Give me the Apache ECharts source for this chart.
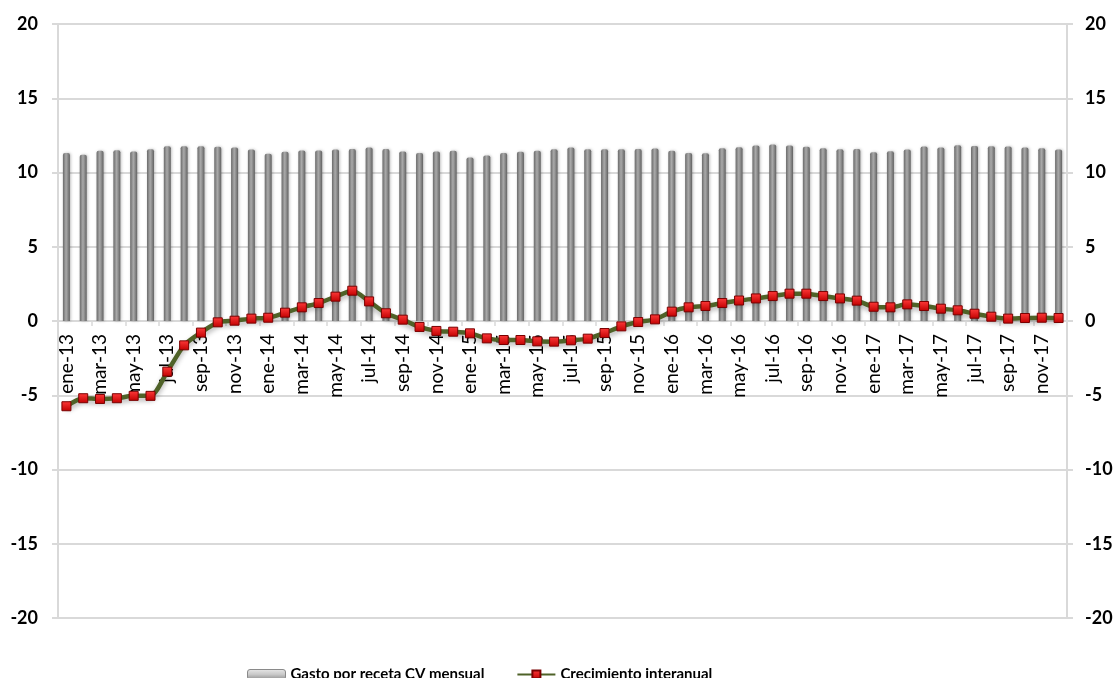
<!DOCTYPE html>
<html>
<head>
<meta charset="utf-8">
<script src="https://cdn.jsdelivr.net/npm/echarts@6/dist/echarts.min.js"></script>
<style>
  html, body { margin: 0; padding: 0; background: #fff; }
  #chart { width: 1115px; height: 678px; }
</style>
</head>
<body>
<div id="chart"></div>
<script>
// Monthly categories, ene-13 .. dic-17
const months = ['ene', 'feb', 'mar', 'abr', 'may', 'jun', 'jul', 'ago', 'sep', 'oct', 'nov', 'dic'];
const years = ['13', '14', '15', '16', '17'];
const categories = [];
years.forEach(y => months.forEach(m => categories.push(m + '-' + y)));

// Gasto por receta CV mensual (euros)
const gastoReceta = [
  11.32, 11.19, 11.46, 11.50, 11.41, 11.57, 11.77, 11.77, 11.77, 11.73, 11.68, 11.55,
  11.26, 11.39, 11.48, 11.48, 11.55, 11.59, 11.69, 11.59, 11.41, 11.32, 11.41, 11.46,
  11.01, 11.14, 11.32, 11.39, 11.46, 11.57, 11.68, 11.57, 11.57, 11.57, 11.59, 11.61,
  11.46, 11.32, 11.30, 11.63, 11.70, 11.82, 11.88, 11.82, 11.73, 11.64, 11.57, 11.59,
  11.37, 11.43, 11.55, 11.75, 11.68, 11.84, 11.79, 11.77, 11.75, 11.68, 11.64, 11.55
];

// Crecimiento interanual (%)
const crecimiento = [
  -5.74, -5.20, -5.25, -5.20, -5.04, -5.04, -3.41, -1.64, -0.78, -0.09, 0.02, 0.16,
  0.22, 0.56, 0.92, 1.21, 1.64, 2.04, 1.32, 0.52, 0.09, -0.40, -0.67, -0.72,
  -0.83, -1.17, -1.28, -1.28, -1.37, -1.39, -1.30, -1.19, -0.81, -0.36, -0.07, 0.11,
  0.63, 0.92, 1.01, 1.21, 1.38, 1.52, 1.68, 1.84, 1.84, 1.68, 1.52, 1.37,
  0.96, 0.92, 1.12, 1.01, 0.83, 0.72, 0.49, 0.29, 0.16, 0.20, 0.22, 0.20
];

const axisMin = -20, axisMax = 20, axisStep = 5;

// Plot box geometry; the category axis sits on the zero line, so it is lifted
// from the bottom edge by the share of the height below zero.
const gridTop = 24, gridBottom = 60, chartHeight = 678;
const plotHeight = chartHeight - gridTop - gridBottom;
const zeroLift = -plotHeight * (0 - axisMin) / (axisMax - axisMin);

const gridColor = '#d9d9d9';
const fontFamily = 'Lato, "Open Sans", sans-serif';

const valueAxis = (position) => ({
  type: 'value',
  position: position,
  min: axisMin,
  max: axisMax,
  interval: axisStep,
  axisLine: { show: true, lineStyle: { color: gridColor, width: 2 } },
  axisTick: { show: true, length: 6, lineStyle: { color: gridColor, width: 2 } },
  splitLine: { show: position === 'left', lineStyle: { color: gridColor, width: 2 } },
  axisLabel: {
    color: '#000', fontFamily: fontFamily, fontWeight: 'bold', fontSize: 18,
    margin: position === 'left' ? 20 : 18
  }
});

const chart = echarts.init(document.getElementById('chart'), null, { renderer: 'canvas' });

chart.setOption({
  animation: false,
  backgroundColor: '#fff',
  grid: { left: 58, right: 48, top: gridTop, bottom: gridBottom, containLabel: false, outerBoundsMode: 'none' },
  legend: {
    left: 242,
    top: 662,
    itemGap: 32,
    itemWidth: 38,
    itemHeight: 10,
    textStyle: { color: '#000', fontFamily: fontFamily, fontWeight: 'bold', fontSize: 15 },
    data: [
      {
        name: 'Gasto por receta CV mensual',
        icon: 'roundRect',
        itemStyle: {
          color: new echarts.graphic.LinearGradient(0, 0, 0, 1, [
            { offset: 0, color: '#e8e8e8' },
            { offset: 0.5, color: '#c8c8c8' },
            { offset: 1, color: '#8c8c8c' }
          ]),
          borderColor: '#8a8a8a', borderWidth: 1
        }
      },
      { name: 'Crecimiento interanual' }
    ]
  },
  xAxis: {
    type: 'category',
    data: categories,
    boundaryGap: true,
    position: 'bottom',
    offset: zeroLift,
    axisLine: { onZero: false, lineStyle: { color: gridColor, width: 2 } },
    axisTick: { show: true, alignWithLabel: false, interval: 1, length: 5, lineStyle: { color: gridColor, width: 1.5 } },
    axisLabel: {
      interval: 1,
      rotate: 90,
      margin: 13,
      color: '#000',
      fontFamily: fontFamily,
      fontSize: 19,
      hideOverlap: false
    },
    splitLine: { show: false }
  },
  yAxis: [valueAxis('left'), valueAxis('right')],
  series: [
    {
      name: 'Gasto por receta CV mensual',
      type: 'bar',
      yAxisIndex: 0,
      data: gastoReceta,
      barWidth: 7,
      itemStyle: {
        color: new echarts.graphic.LinearGradient(0, 0, 1, 0, [
          { offset: 0, color: '#6a6a6a' },
          { offset: 0.45, color: '#a9a9a9' },
          { offset: 0.6, color: '#989898' },
          { offset: 1, color: '#626262' }
        ]),
        borderRadius: [2, 2, 0, 0],
        shadowColor: 'rgba(0,0,0,0.25)',
        shadowBlur: 3,
        shadowOffsetX: 1
      },
      z: 2
    },
    {
      name: 'Crecimiento interanual',
      type: 'line',
      yAxisIndex: 1,
      data: crecimiento,
      smooth: 0.25,
      symbol: 'rect',
      symbolSize: 9,
      lineStyle: {
        color: '#4f6228', width: 4.5,
        shadowColor: 'rgba(0,0,0,0.3)', shadowBlur: 5, shadowOffsetY: 3
      },
      itemStyle: {
        color: new echarts.graphic.LinearGradient(0, 0, 0, 1, [
          { offset: 0, color: '#ff3a3a' },
          { offset: 1, color: '#c00000' }
        ]),
        borderColor: '#7a0000',
        borderWidth: 1
      },
      z: 5
    }
  ]
});
</script>
</body>
</html>
